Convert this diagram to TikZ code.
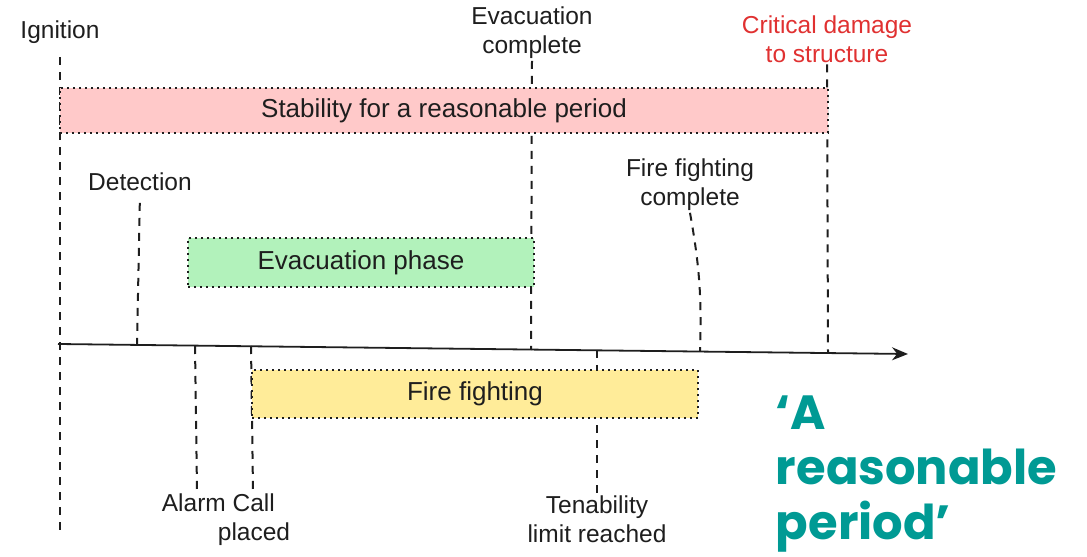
\documentclass[tikz,border=0pt]{standalone}
\usepackage{fontspec}
\setmainfont{Liberation Sans}
\newfontfamily\tealfont{Poppins}
\usepackage{tikz}
\usetikzlibrary{arrows.meta}
\definecolor{ink}{HTML}{1E1E1E}
\definecolor{redtxt}{HTML}{E03131}
\definecolor{pinkfill}{HTML}{FFC9C9}
\definecolor{greenfill}{HTML}{B2F2BB}
\definecolor{yellowfill}{HTML}{FFEC99}
\definecolor{tealtxt}{HTML}{009A94}

\begin{document}
\begin{tikzpicture}[x=1bp, y=-1bp, color=ink, line width=1.8bp,
  font=\fontsize{24.5bp}{29bp}\selectfont,
  lbl/.style={align=center, inner sep=1bp},
  vline/.style={line width=2bp, dash pattern=on 8bp off 7bp},
  bar/.style={draw, line width=2bp, dash pattern=on 2bp off 4bp, inner sep=0,
    font=\fontsize{26bp}{30bp}\selectfont}]
  \useasboundingbox (0,0) rectangle (1087,557);

  % labels above and below the time line
  \node[lbl] (ign) at (60,32) {Ignition};
  \node[lbl] (evc) at (532,33) {Evacuation\\complete};
  \node[lbl, text=redtxt] (crit) at (827,39) {Critical damage\\to structure};
  \node[lbl] (det) at (140,182) {Detection};
  \node[lbl] (ffc) at (690,185) {Fire fighting\\complete};
  \node[lbl, align=left, anchor=north west] (alarm) at (160,492) {Alarm Call\\\hspace*{56bp}placed};
  \node[lbl] (ten) at (597,519) {Tenability\\limit reached};

  % time line
  \coordinate (a0) at (58,344);
  \coordinate (a1) at (908,354);
  \draw[-{Stealth[length=16bp,width=13bp]}] (a0) -- (a1);

  % event markers
  \coordinate (ignEnd) at (60,530);
  \coordinate (evcEnd) at (531,350);
  \coordinate (critEnd) at (828,353);
  \coordinate (detEnd) at (137,345);
  \coordinate (ffcEnd) at (700,351);
  \coordinate (al0) at (195,346); \coordinate (al1) at (197,490);
  \coordinate (pl0) at (251,346); \coordinate (pl1) at (253,490);
  \coordinate (ten0) at (597,350);
  \path[vline]
    (ign.south) edge[shorten <=12bp] (ignEnd)
    (evc.south) edge (evcEnd)
    (crit.south) edge (critEnd)
    (det.south) edge[shorten <=10bp] (detEnd)
    (ffc.south) edge[bend left=6] (ffcEnd)
    (al0) edge (al1)
    (pl0) edge (pl1)
    (ten0) edge (ten.north);

  % phases
  \node[bar, fill=pinkfill, minimum width=768bp, minimum height=45bp] (stab) at (444,110.5) {Stability for a reasonable period};
  \node[bar, fill=greenfill, minimum width=346bp, minimum height=49bp] (evac) at (361,262.5) {Evacuation phase};
  \node[bar, fill=yellowfill, minimum width=446bp, minimum height=48bp] (fire) at (475,394) {Fire fighting};

  \node[anchor=north west, align=left, inner sep=0, text=tealtxt,
    font=\tealfont\bfseries\fontsize{48bp}{55bp}\selectfont] (rp) at (775,395) {‘A\\reasonable\\period’};
\end{tikzpicture}
\end{document}
